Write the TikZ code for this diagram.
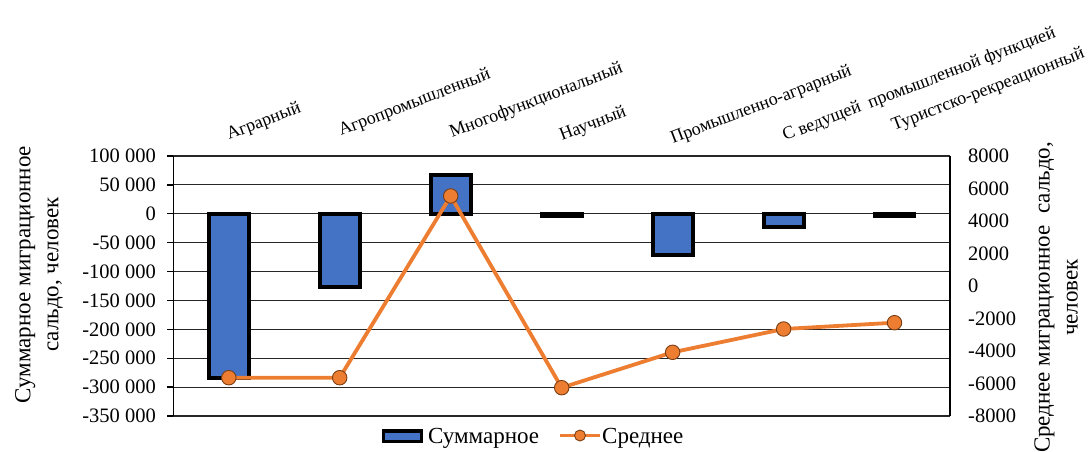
\documentclass[tikz,border=0pt]{standalone}
\usepackage{fontspec}
\setmainfont{Liberation Serif}
\definecolor{barblue}{HTML}{4472C4}
\definecolor{lineor}{HTML}{ED7D31}
\definecolor{mkedge}{HTML}{7A3E14}
\tikzset{
  gridline/.style={black!85, line width=1.2pt},
  axisline/.style={black, line width=1.3pt},
  barbox/.style={fill=barblue, draw=black, line width=3.8pt},
  ticklab/.style={font=\fontsize{20.5}{24}\selectfont, inner sep=0pt},
  catlab/.style={font=\fontsize{18}{22}\selectfont, rotate=21, anchor=base west, inner sep=0pt},
  axtitle/.style={font=\fontsize{23}{28}\selectfont, rotate=90, align=center, inner sep=0pt},
  mk/.style={circle, fill=lineor, draw=mkedge, line width=0.9pt, minimum size=14.5pt, inner sep=0pt},
  serline/.style={lineor, line width=3.8pt, line join=round},
  leglab/.style={font=\fontsize{23}{28}\selectfont, anchor=base west, inner sep=0pt},
}
% left axis: value in thousands -> pixel y ; right axis: value in thousands -> pixel y
\newcommand{\yLft}[1]{213.8-0.5778*(#1)}
\newcommand{\yRgt}[1]{286-16.25*(#1)}
\begin{document}
\begin{tikzpicture}[x=1pt, y=-1pt]
\useasboundingbox (0,0) rectangle (1088,451);

% gridlines and left ticks / labels
\foreach \i/\lab in {0/100 000,1/50 000,2/0,3/-50 000,4/-100 000,5/-150 000,6/-200 000,7/-250 000,8/-300 000,9/-350 000}{
  \draw[gridline] (173.3,{156+\i*28.889}) -- (950,{156+\i*28.889});
  \draw[axisline] (167,{156+\i*28.889}) -- (173.3,{156+\i*28.889});
  \node[ticklab, anchor=east] (lt\i) at (156,{156+\i*28.889}) {\lab};
}
% right labels
\foreach \i/\lab in {0/8000,1/6000,2/4000,3/2000,4/0,5/-2000,6/-4000,7/-6000,8/-8000}{
  \node[ticklab, anchor=west] (rt\i) at (968,{156+\i*32.5}) {\lab};
}

% bars (centres, half width 20)
\draw[barbox] (208.8,{\yLft{0}}) rectangle (248.8,{\yLft{-284}});
\draw[barbox] (319.7,{\yLft{0}}) rectangle (359.7,{\yLft{-126.7}});
\draw[barbox] (430.7,{\yLft{0}}) rectangle (470.7,{\yLft{67.7}});
\draw[barbox] (541.7,{\yLft{0}}) rectangle (581.7,{\yLft{-3.5}});
\draw[barbox] (652.6,{\yLft{0}}) rectangle (692.6,{\yLft{-71.8}});
\draw[barbox] (763.6,{\yLft{0}}) rectangle (803.6,{\yLft{-22.8}});
\draw[barbox] (874.5,{\yLft{0}}) rectangle (914.5,{\yLft{-3.5}});

% axis frame lines
\draw[axisline] (173.3,156) -- (173.3,416);
\draw[axisline] (950,156) -- (950,416);

% line series
\coordinate (p1) at (228.8,{\yRgt{-5.643}});
\coordinate (p2) at (339.7,{\yRgt{-5.643}});
\coordinate (p3) at (450.7,{\yRgt{5.538}});
\coordinate (p4) at (561.7,{\yRgt{-6.258}});
\coordinate (p5) at (672.6,{\yRgt{-4.08}});
\coordinate (p6) at (783.6,{\yRgt{-2.646}});
\coordinate (p7) at (894.5,{\yRgt{-2.258}});
\draw[serline] (p1) -- (p2) -- (p3) -- (p4) -- (p5) -- (p6) -- (p7);
\foreach \k in {1,...,7}{ \node[mk] (m\k) at (p\k) {}; }

% category labels
\node[catlab] (c1) at (229,140) {Аграрный};
\node[catlab] (c2) at (341,136) {Агропромышленный};
\node[catlab] (c3) at (452,138) {Многофункциональный};
\node[catlab] (c4) at (562,141) {Научный};
\node[catlab] (c5) at (673,144) {Промышленно-аграрный};
\node[catlab] (c6) at (785,141) {С ведущей\ \ промышленной функцией};
\node[catlab] (c7) at (894,131) {Туристско-рекреационный};

% axis titles
\node[axtitle] (tl) at (39,274.5) {Суммарное миграционное\\сальдо, человек};
\node[axtitle] (tr) at (1056,297.5) {Среднее миграционное\ \ сальдо,\\человек};

% legend
\node[draw=black, fill=barblue, line width=3.5pt, minimum width=38pt, minimum height=10.5pt, inner sep=0pt] (legsw) at (402.5,436.2) {};
\node[leglab] (legt1) at (428,443.3) {Суммарное};
\coordinate (la) at (560,435.5);
\coordinate (lb) at (600,435.5);
\draw[serline] (la) -- (lb);
\node[mk, minimum size=11pt] (legmk) at (580,435.5) {};
\node[leglab] (legt2) at (602,443.3) {Среднее};
\end{tikzpicture}
\end{document}
